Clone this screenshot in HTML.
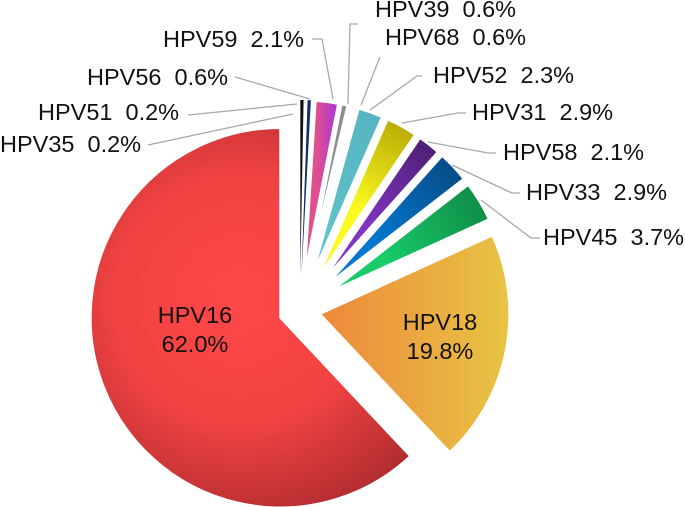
<!DOCTYPE html>
<html><head><meta charset="utf-8"><style>
html,body{margin:0;padding:0;background:#fff;}
svg{display:block;}
text{font-family:"Liberation Sans",Arial,sans-serif;font-size:23.5px;fill:#111;white-space:pre;}
</style></head><body>
<svg id="s" width="685" height="507" viewBox="0 0 685 507" xmlns="http://www.w3.org/2000/svg">
<defs>
<radialGradient id="gR" gradientUnits="userSpaceOnUse" cx="240" cy="300" r="230"><stop offset="0" stop-color="#ff4848"/><stop offset="0.55" stop-color="#f04242"/><stop offset="1" stop-color="#b02c30"/></radialGradient>
<linearGradient id="gO" gradientUnits="userSpaceOnUse" x1="320" y1="0" x2="510" y2="0"><stop offset="0" stop-color="#ee883c"/><stop offset="1" stop-color="#e8c444"/></linearGradient>
<linearGradient id="gP" gradientUnits="userSpaceOnUse" x1="316" y1="0" x2="342" y2="0"><stop offset="0" stop-color="#e0508c"/><stop offset="1" stop-color="#a030e8"/></linearGradient>
<radialGradient id="gC" gradientUnits="userSpaceOnUse" cx="320" cy="260" r="160"><stop offset="0" stop-color="#62c4cc"/><stop offset="1" stop-color="#55b4c0"/></radialGradient>
<radialGradient id="gY" gradientUnits="userSpaceOnUse" cx="320" cy="270" r="180"><stop offset="0.4" stop-color="#fafa20"/><stop offset="1" stop-color="#b0a000"/></radialGradient>
<radialGradient id="gU" gradientUnits="userSpaceOnUse" cx="320" cy="280" r="180"><stop offset="0.4" stop-color="#8034c0"/><stop offset="1" stop-color="#4a1e70"/></radialGradient>
<radialGradient id="gB" gradientUnits="userSpaceOnUse" cx="320" cy="290" r="180"><stop offset="0.4" stop-color="#0478d0"/><stop offset="1" stop-color="#064c88"/></radialGradient>
<radialGradient id="gG" gradientUnits="userSpaceOnUse" cx="320" cy="295" r="180"><stop offset="0.4" stop-color="#18cc6a"/><stop offset="1" stop-color="#109048"/></radialGradient>
</defs>
<g id="slices"></g>
<g fill="none" stroke="#a8a8a8" stroke-width="1.3">
<polyline points="312,39 322,39 333,99"/>
<polyline points="235,77 310,99"/>
<polyline points="188,115 297,104"/>
<polyline points="148,145 293,114"/>
<polyline points="358,24 350,24 348,104"/>
<polyline points="380,57 361,105"/>
<polyline points="422,76 417,76 370,110"/>
<polyline points="466,113 458,113 402,123"/>
<polyline points="496,153 488,153 428,142"/>
<polyline points="520,193 512,193 452,165"/>
<polyline points="540,238 531,238 481,200"/>
</g>
<text x="163" y="47">HPV59  2.1%</text>
<text x="87" y="85">HPV56  0.6%</text>
<text x="38" y="120">HPV51  0.2%</text>
<text x="0" y="152">HPV35  0.2%</text>
<text x="375" y="17">HPV39  0.6%</text>
<text x="385" y="45">HPV68  0.6%</text>
<text x="433" y="83">HPV52  2.3%</text>
<text x="472" y="120">HPV31  2.9%</text>
<text x="503" y="160">HPV58  2.1%</text>
<text x="526" y="200">HPV33  2.9%</text>
<text x="543" y="245">HPV45  3.7%</text>
<text x="195" y="323" text-anchor="middle">HPV16</text>
<text x="195" y="352" text-anchor="middle">62.0%</text>
<text x="440" y="330" text-anchor="middle">HPV18</text>
<text x="440" y="359" text-anchor="middle">19.8%</text>
</svg>
<script>
(function(){
var cx=300,cy=310;
var S=[
[0.0,0.3,'#111111',35,175,0],
[0.55,0.85,'#12306a',35,175,0],
[1.0,3.1,'url(#gP)',35,175,2.5],
[3.1,3.7,'#8c8c8c',35,175,2.5],
[4.3,6.6,'url(#gC)',35,175,2.5],
[6.6,9.5,'url(#gY)',35,175,2.5],
[9.5,11.6,'url(#gU)',35,175,2.5],
[11.6,14.5,'url(#gB)',35,175,2.5],
[14.5,18.2,'url(#gG)',35,175,2.5],
[18.2,38.0,'url(#gO)',20,190,2.5],
[38.0,100,'url(#gR)',21,190,2.5]
];
var g=document.getElementById('slices'),out='';
function pt(x,y,r,a){var t=a*Math.PI/180;return [x+r*Math.sin(t),y-r*Math.cos(t)];}
S.forEach(function(s){
 var a0=s[0]*3.6,a1=s[1]*3.6,m=(a0+a1)/2;
 var c=pt(cx,cy,s[3],m);
 var p0=pt(c[0],c[1],s[4],a0),p1=pt(c[0],c[1],s[4],a1);
 var large=(a1-a0)>180?1:0;
 out+='<path d="M'+c[0].toFixed(1)+','+c[1].toFixed(1)+' L'+p0[0].toFixed(1)+','+p0[1].toFixed(1)+' A'+s[4]+','+s[4]+' 0 '+large+' 1 '+p1[0].toFixed(1)+','+p1[1].toFixed(1)+' Z" fill="'+s[2]+'"'+(s[5]?' stroke="#fff" stroke-width="'+s[5]+'"':'')+'/>';
});
g.innerHTML=out;
})();
</script>
</body></html>
